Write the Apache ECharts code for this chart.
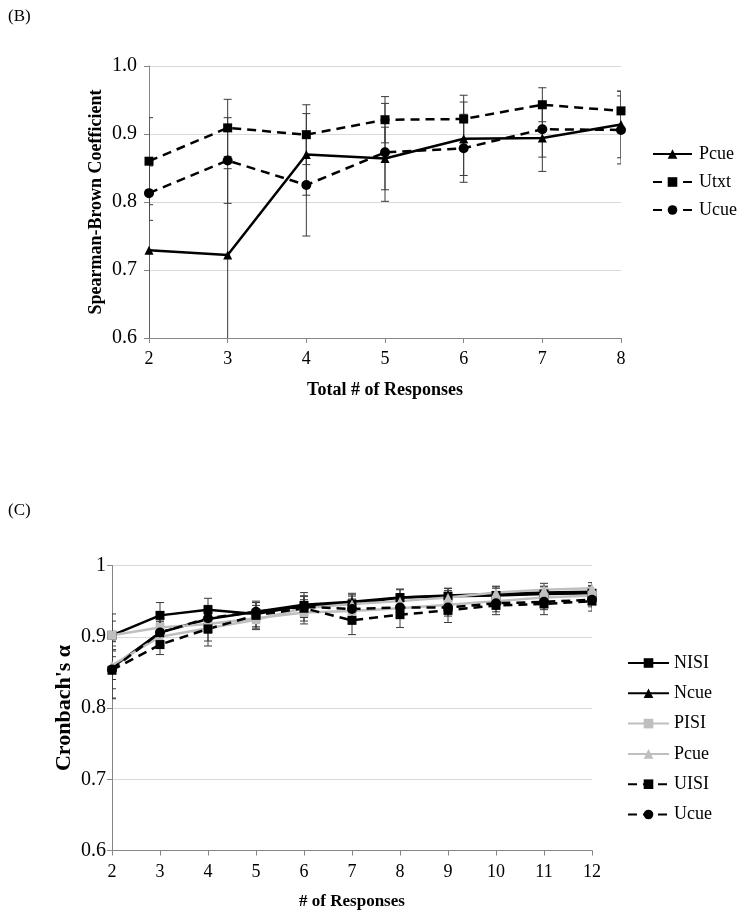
<!DOCTYPE html>
<html><head><meta charset="utf-8">
<script src="https://cdn.jsdelivr.net/npm/echarts@6/dist/echarts.min.js"></script>
<style>html,body{margin:0;padding:0;background:#fff}#c{width:745px;height:918px}</style>
</head><body><div id="c"></div>
<script>
const FONT = "'Liberation Serif','Times New Roman',serif";

// Panel (B)
const xB = [2, 3, 4, 5, 6, 7, 8];
const bPcue = [0.729, 0.722, 0.870, 0.864, 0.893, 0.894, 0.914];
const bPcueErr = [0.130, 0.127, 0.060, 0.046, 0.054, 0.049, 0.049];
const bUtxt = [0.860, 0.909, 0.899, 0.921, 0.922, 0.943, 0.934];
const bUtxtErr = [0.064, 0.042, 0.044, 0.034, 0.035, 0.025, 0.029];
const bUcue = [0.813, 0.861, 0.825, 0.873, 0.879, 0.907, 0.906];
const bUcueErr = [0.040, 0.063, 0.075, 0.072, 0.050, 0.041, 0.050];

// Panel (C)
const xC = [2, 3, 4, 5, 6, 7, 8, 9, 10, 11, 12];
const cNISI = [0.902, 0.930, 0.938, 0.932, 0.944, 0.946, 0.955, 0.957, 0.958, 0.960, 0.961];
const cNISIErr = [0.030, 0.018, 0.016, 0.012, 0.013, 0.013, 0.012, 0.011, 0.010, 0.010, 0.009];
const cNcue = [0.857, 0.906, 0.925, 0.935, 0.945, 0.949, 0.955, 0.958, 0.960, 0.962, 0.963];
const cNcueErr = [0.030, 0.015, 0.015, 0.013, 0.012, 0.012, 0.011, 0.010, 0.010, 0.009, 0.009];
const cPISI = [0.902, 0.913, 0.918, 0.926, 0.934, 0.936, 0.940, 0.945, 0.950, 0.955, 0.958];
const cPISIErr = [0.020, 0.014, 0.013, 0.012, 0.012, 0.011, 0.010, 0.010, 0.009, 0.009, 0.008];
const cPcue = [0.860, 0.900, 0.912, 0.924, 0.940, 0.946, 0.950, 0.955, 0.962, 0.966, 0.968];
const cPcueErr = [0.020, 0.014, 0.018, 0.014, 0.012, 0.011, 0.010, 0.010, 0.009, 0.009, 0.008];
const cUISI = [0.853, 0.889, 0.911, 0.930, 0.940, 0.923, 0.931, 0.937, 0.944, 0.946, 0.950];
const cUISIErr = [0.040, 0.014, 0.024, 0.018, 0.022, 0.020, 0.018, 0.017, 0.013, 0.015, 0.014];
const cUcue = [0.854, 0.906, 0.926, 0.935, 0.942, 0.939, 0.941, 0.941, 0.947, 0.949, 0.952];
const cUcueErr = [0.040, 0.016, 0.018, 0.015, 0.015, 0.014, 0.013, 0.012, 0.012, 0.011, 0.010];

const legendB = ['B:Pcue', 'B:Utxt', 'B:Ucue'];
const legendC = ['C:NISI', 'C:Ncue', 'C:PISI', 'C:Pcue', 'C:UISI', 'C:Ucue'];

const BLACK = '#000000', GRAY = '#bfbfbf';
const DASH = [9, 6];

function lineSeries(name, gi, xs, vals, color, symbol, dashed, size) {
  return {
    type: 'line', name, xAxisIndex: gi, yAxisIndex: gi,
    data: xs.map((x, i) => [x, vals[i]]),
    symbol, symbolSize: size, showSymbol: true,
    itemStyle: { color },
    lineStyle: { color, width: 2.5, type: dashed ? DASH : 'solid' },
    z: 3, animation: false
  };
}
function errSeries(gi, xs, vals, errs) {
  return {
    type: 'custom', xAxisIndex: gi, yAxisIndex: gi, clip: true, z: 1, animation: false,
    data: xs.map((x, i) => [x, vals[i] - errs[i], vals[i] + errs[i]]),
    encode: { x: 0, y: [1, 2] },
    renderItem(params, api) {
      const x = api.value(0);
      const lo = api.coord([x, api.value(1)]);
      const hi = api.coord([x, api.value(2)]);
      const w = 4;
      const style = { stroke: '#3a3a3a', lineWidth: 1 };
      return { type: 'group', children: [
        { type: 'line', shape: { x1: lo[0], y1: lo[1], x2: hi[0], y2: hi[1] }, style },
        { type: 'line', shape: { x1: lo[0] - w, y1: lo[1], x2: lo[0] + w, y2: lo[1] }, style },
        { type: 'line', shape: { x1: hi[0] - w, y1: hi[1], x2: hi[0] + w, y2: hi[1] }, style }
      ]};
    }
  };
}

const axisLineStyle = { show: true, lineStyle: { color: '#868686', width: 1 } };
const tickStyle = { show: true, inside: false, length: 5, lineStyle: { color: '#868686' } };
function lbl(size, margin, extra) {
  return Object.assign({ color: '#000', fontFamily: FONT, fontSize: size, margin }, extra || {});
}
function nameStyle(size) {
  return { color: '#000', fontFamily: FONT, fontSize: size, fontWeight: 'bold' };
}

const option = {
  backgroundColor: '#fff',
  animation: false,
  graphic: [
    { type: 'text', left: 8, top: 8, style: { text: '(B)', font: '17px ' + FONT, fill: '#000' } },
    { type: 'text', left: 8, top: 502, style: { text: '(C)', font: '17px ' + FONT, fill: '#000' } }
  ],
  grid: [
    { left: 149, top: 66, width: 472, height: 272 },
    { left: 112, top: 565.5, width: 480, height: 285 }
  ],
  xAxis: [
    {
      type: 'value', gridIndex: 0, min: 2, max: 8, interval: 1,
      axisLine: axisLineStyle, axisTick: tickStyle, splitLine: { show: false },
      axisLabel: lbl(18, 12),
      name: 'Total # of Responses', nameLocation: 'middle', nameGap: 43, nameMoveOverlap: false,
      nameTextStyle: nameStyle(18)
    },
    {
      type: 'value', gridIndex: 1, min: 2, max: 12, interval: 1,
      axisLine: axisLineStyle, axisTick: tickStyle, splitLine: { show: false },
      axisLabel: lbl(18, 13),
      name: '# of Responses', nameLocation: 'middle', nameGap: 43, nameMoveOverlap: false,
      nameTextStyle: nameStyle(17)
    }
  ],
  yAxis: [
    {
      type: 'value', gridIndex: 0, min: 0.6, max: 1.0, interval: 0.1,
      axisLine: axisLineStyle, axisTick: tickStyle,
      splitLine: { show: true, lineStyle: { color: '#d9d9d9', width: 1 } },
      axisLabel: lbl(20, 12, { formatter: v => v.toFixed(1) }),
      name: 'Spearman-Brown Coefficient', nameLocation: 'middle', nameGap: 44, nameMoveOverlap: false,
      nameTextStyle: nameStyle(18)
    },
    {
      type: 'value', gridIndex: 1, min: 0.6, max: 1.0, interval: 0.1,
      axisLine: axisLineStyle, axisTick: tickStyle,
      splitLine: { show: true, lineStyle: { color: '#d9d9d9', width: 1 } },
      axisLabel: lbl(20, 6),
      name: "Cronbach's α", nameLocation: 'middle', nameGap: 37, nameMoveOverlap: false,
      nameTextStyle: nameStyle(22)
    }
  ],
  legend: [
    {
      data: legendB, orient: 'vertical', left: 647, top: 140,
      itemWidth: 39, itemHeight: 12, itemGap: 10,
      textStyle: { fontFamily: FONT, fontSize: 18, color: '#000', padding: [0, 0, 0, 2] },
      formatter: n => n.slice(2), selectedMode: false
    },
    {
      data: legendC, orient: 'vertical', left: 622, top: 649,
      itemWidth: 41, itemHeight: 12, itemGap: 12.3,
      textStyle: { fontFamily: FONT, fontSize: 18, color: '#000', padding: [0, 0, 0, 0] },
      formatter: n => n.slice(2), selectedMode: false
    }
  ],
  series: [
    errSeries(0, xB, bPcue, bPcueErr),
    errSeries(0, xB, bUtxt, bUtxtErr),
    errSeries(0, xB, bUcue, bUcueErr),
    lineSeries('B:Pcue', 0, xB, bPcue, BLACK, 'triangle', false, 9),
    lineSeries('B:Utxt', 0, xB, bUtxt, BLACK, 'rect', true, 9),
    lineSeries('B:Ucue', 0, xB, bUcue, BLACK, 'circle', true, 10),

    errSeries(1, xC, cNISI, cNISIErr),
    errSeries(1, xC, cNcue, cNcueErr),
    errSeries(1, xC, cPISI, cPISIErr),
    errSeries(1, xC, cPcue, cPcueErr),
    errSeries(1, xC, cUISI, cUISIErr),
    errSeries(1, xC, cUcue, cUcueErr),
    lineSeries('C:NISI', 1, xC, cNISI, BLACK, 'rect', false, 9),
    lineSeries('C:Ncue', 1, xC, cNcue, BLACK, 'triangle', false, 9),
    lineSeries('C:PISI', 1, xC, cPISI, GRAY, 'rect', false, 9),
    lineSeries('C:Pcue', 1, xC, cPcue, GRAY, 'triangle', false, 9),
    lineSeries('C:UISI', 1, xC, cUISI, BLACK, 'rect', true, 9),
    lineSeries('C:Ucue', 1, xC, cUcue, BLACK, 'circle', true, 10)
  ]
};

const chart = echarts.init(document.getElementById('c'), null, { renderer: 'canvas' });
chart.setOption(option);
</script>
</body></html>
